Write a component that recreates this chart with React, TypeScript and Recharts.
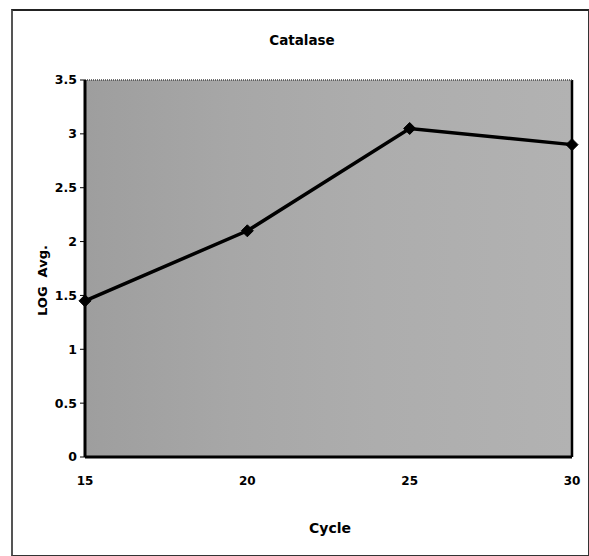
import React from 'react';
import { LineChart, Line, XAxis, YAxis, CartesianGrid, ReferenceLine } from 'recharts';

const cycles = [15, 20, 25, 30];
const logAvg = [1.45, 2.1, 3.05, 2.9];
const xTicks = [15, 20, 25, 30];
const yTicks = [0, 0.5, 1, 1.5, 2, 2.5, 3, 3.5];

const data = cycles.map((c, i) => ({ cycle: c, value: logAvg[i] }));

const FONT = '"DejaVu Sans", "Liberation Sans", Arial, sans-serif';

const Diamond = (props: any) => {
  const { cx, cy, index } = props;
  if (cx == null || cy == null) return null;
  const r = 6;
  return (
    <polygon
      key={`d-${index}`}
      points={`${cx},${cy - r} ${cx + r},${cy} ${cx},${cy + r} ${cx - r},${cy}`}
      fill="#000"
      stroke="#000"
    />
  );
};

export default function App() {
  return (
    <div style={{ position: 'absolute', left: 0, top: 0, width: 589, height: 556, background: '#fff', overflow: 'hidden' }}>
      <div
        style={{
          position: 'absolute',
          left: 11,
          top: 9,
          width: 578,
          height: 547,
          borderLeft: '2px solid #555',
          borderTop: '2px solid #222',
          borderRight: '1px solid #333',
          borderBottom: '1px solid #333',
          boxSizing: 'border-box',
        }}
      />
      <LineChart
        width={589}
        height={556}
        data={data}
        margin={{ top: 80, right: 17, bottom: 69, left: 0 }}
        style={{ position: 'absolute', left: 0, top: 0, fontFamily: FONT }}
      >
        <defs>
          <linearGradient id="bgGrad" x1="0" y1="0" x2="1" y2="0">
            <stop offset="0%" stopColor="#9e9e9e" />
            <stop offset="30%" stopColor="#a7a7a7" />
            <stop offset="60%" stopColor="#adadad" />
            <stop offset="100%" stopColor="#b2b2b2" />
          </linearGradient>
        </defs>
        <CartesianGrid horizontal={false} vertical={false} fill="url(#bgGrad)" />
        <XAxis
          dataKey="cycle"
          type="number"
          domain={[15, 30]}
          ticks={xTicks}
          tickLine={false}
          tickMargin={13}
          axisLine={{ stroke: '#000', strokeWidth: 3 }}
          tick={{ fill: '#000', fontSize: 12, fontWeight: 700, fontFamily: FONT }}
          interval={0}
        />
        <YAxis
          type="number"
          domain={[0, 3.5]}
          ticks={yTicks}
          width={85}
          tickSize={5}
          tickMargin={3}
          tickLine={{ stroke: '#000', strokeWidth: 1 }}
          axisLine={{ stroke: '#000', strokeWidth: 3 }}
          tick={{ fill: '#000', fontSize: 12.5, fontWeight: 700, fontFamily: FONT }}
          interval={0}
        />
        <ReferenceLine x={30} stroke="#000" strokeWidth={2.5} />
        <ReferenceLine y={3.5} stroke="#444" strokeWidth={1.5} strokeDasharray="1 1" />
        <Line
          type="linear"
          dataKey="value"
          stroke="#000"
          strokeWidth={3.5}
          dot={Diamond}
          activeDot={false}
          isAnimationActive={false}
        />
      </LineChart>
      <div
        style={{
          position: 'absolute',
          left: 202,
          width: 200,
          top: 32,
          textAlign: 'center',
          fontFamily: FONT,
          fontWeight: 700,
          fontSize: 13.5,
          color: '#000',
        }}
      >
        Catalase
      </div>
      <div
        style={{
          position: 'absolute',
          left: 230,
          width: 200,
          top: 520,
          textAlign: 'center',
          fontFamily: FONT,
          fontWeight: 700,
          fontSize: 14,
          color: '#000',
        }}
      >
        Cycle
      </div>
      <div
        style={{
          position: 'absolute',
          left: 42 - 50,
          width: 100,
          top: 282 - 9,
          textAlign: 'center',
          fontFamily: FONT,
          fontWeight: 700,
          fontSize: 13,
          color: '#000',
          transform: 'rotate(-90deg)',
          whiteSpace: 'pre',
        }}
      >
        {'LOG  Avg.'}
      </div>
    </div>
  );
}
